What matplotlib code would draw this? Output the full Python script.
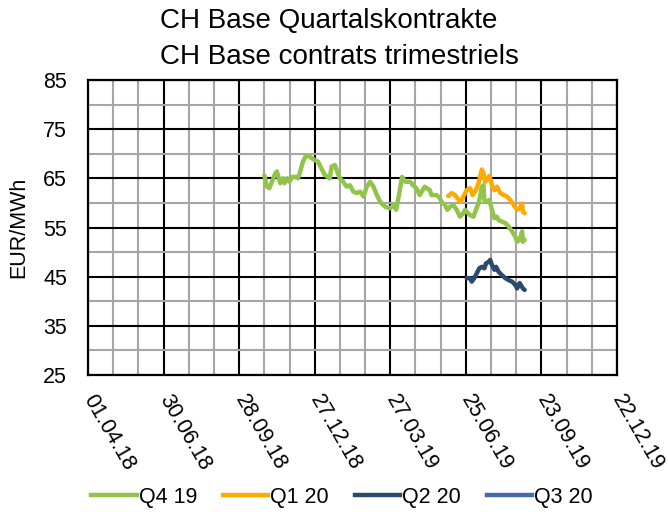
import matplotlib
matplotlib.use("Agg")
import matplotlib.pyplot as plt
import matplotlib.dates as mdates
from matplotlib.ticker import FixedLocator, MultipleLocator
from matplotlib.lines import Line2D
import pandas as pd

plt.rcParams['font.family'] = ['Liberation Sans', 'DejaVu Sans']

title = "CH Base Quartalskontrakte\nCH Base contrats trimestriels"
ylabel = "EUR/MWh"
series_names = ["Q4 19", "Q1 20", "Q2 20", "Q3 20"]
series_colors = ["#92C44C", "#FFAA00", "#2B4A70", "#4A68B0"]

q4_19_dates = ["2018-10-28", "2018-10-31", "2018-11-03", "2018-11-06", "2018-11-10", "2018-11-12",
               "2018-11-16", "2018-11-19", "2018-11-21", "2018-11-24", "2018-11-27", "2018-11-30",
               "2018-12-04", "2018-12-07", "2018-12-09", "2018-12-13", "2018-12-17", "2018-12-21",
               "2018-12-27", "2018-12-31", "2019-01-04", "2019-01-08", "2019-01-14", "2019-01-16",
               "2019-01-20", "2019-01-22", "2019-01-26", "2019-01-30", "2019-02-03", "2019-02-07",
               "2019-02-11", "2019-02-15", "2019-02-19", "2019-02-23", "2019-02-27", "2019-03-03",
               "2019-03-07", "2019-03-11", "2019-03-15", "2019-03-21", "2019-03-27", "2019-03-31",
               "2019-04-03", "2019-04-06", "2019-04-10", "2019-04-14", "2019-04-20", "2019-04-23",
               "2019-04-27", "2019-05-01", "2019-05-07", "2019-05-13", "2019-05-15", "2019-05-21",
               "2019-05-25", "2019-05-27", "2019-05-31", "2019-06-03", "2019-06-06", "2019-06-10",
               "2019-06-14", "2019-06-18", "2019-06-22", "2019-06-24", "2019-06-26", "2019-06-30",
               "2019-07-04", "2019-07-07", "2019-07-10", "2019-07-12", "2019-07-14", "2019-07-16",
               "2019-07-17", "2019-07-20", "2019-07-23", "2019-07-26", "2019-07-29", "2019-08-01",
               "2019-08-03", "2019-08-07", "2019-08-11", "2019-08-15", "2019-08-19", "2019-08-23",
               "2019-08-25", "2019-08-28", "2019-08-31", "2019-09-01", "2019-09-03"]
q4_19_values = [65.6, 63.3, 63.0, 64.3, 66.0, 66.4, 64.0, 65.0, 64.0, 65.0, 64.3, 65.3,
                65.3, 65.0, 66.0, 68.4, 69.7, 69.4, 68.7, 68.4, 67.0, 65.7, 65.0, 67.4,
                67.7, 66.7, 65.0, 64.3, 63.3, 63.6, 62.3, 62.0, 62.3, 61.3, 63.3, 64.3,
                63.3, 61.6, 60.2, 59.2, 58.9, 59.6, 58.6, 61.3, 65.3, 64.3, 64.3, 63.6,
                63.0, 61.6, 63.3, 62.6, 61.6, 61.6, 61.0, 60.2, 59.6, 58.6, 59.2, 59.6,
                58.6, 57.2, 57.9, 58.6, 58.2, 57.5, 57.2, 58.6, 59.9, 61.3, 63.3, 63.6,
                60.6, 60.2, 60.6, 58.6, 56.9, 57.2, 56.5, 56.2, 55.9, 55.2, 54.2, 53.1,
                52.1, 52.5, 54.2, 52.1, 52.5]

q1_20_dates = ["2019-06-04", "2019-06-08", "2019-06-12", "2019-06-15", "2019-06-19", "2019-06-22",
               "2019-06-26", "2019-06-30", "2019-07-03", "2019-07-07", "2019-07-10", "2019-07-12",
               "2019-07-14", "2019-07-16", "2019-07-18", "2019-07-20", "2019-07-23", "2019-07-26",
               "2019-07-29", "2019-08-01", "2019-08-05", "2019-08-09", "2019-08-13", "2019-08-17",
               "2019-08-21", "2019-08-25", "2019-08-28", "2019-08-31", "2019-09-01", "2019-09-03"]
q1_20_values = [61.4, 62.0, 61.6, 60.9, 60.2, 61.3, 62.6, 63.0, 61.6, 62.6, 64.0, 65.3,
                66.8, 66.0, 64.3, 64.7, 65.5, 63.6, 62.6, 63.3, 62.0, 61.6, 61.3, 60.6,
                59.6, 58.6, 58.9, 59.9, 58.2, 57.9]

q2_20_dates = ["2019-06-26", "2019-06-30", "2019-07-02", "2019-07-05", "2019-07-08", "2019-07-11",
               "2019-07-14", "2019-07-17", "2019-07-19", "2019-07-22", "2019-07-24", "2019-07-26",
               "2019-07-29", "2019-07-31", "2019-08-03", "2019-08-07", "2019-08-11", "2019-08-15",
               "2019-08-19", "2019-08-23", "2019-08-25", "2019-08-28", "2019-09-01", "2019-09-03"]
q2_20_values = [44.7, 44.7, 44.0, 44.7, 45.7, 46.7, 47.0, 46.7, 47.7, 48.0, 48.4, 47.4,
                46.4, 47.0, 46.0, 45.3, 44.7, 44.3, 44.0, 43.3, 42.6, 43.7, 42.6, 42.3]

q3_20_dates = []
q3_20_values = []

x_start = "2018-04-01"
x_end = "2019-12-22"
y_min, y_max = 25, 85

fig = plt.figure(figsize=(6.68, 5.25), dpi=100)
ax = fig.add_axes([88/668, 1-375/525, (617-88)/668, (375-80)/525])

all_series = [(q4_19_dates, q4_19_values), (q1_20_dates, q1_20_values),
              (q2_20_dates, q2_20_values), (q3_20_dates, q3_20_values)]
for (d, v), name, col in zip(all_series, series_names, series_colors):
    ax.plot(pd.to_datetime(d), v, color=col, lw=3.2, label=name, solid_capstyle='round',
            solid_joinstyle='round', zorder=3)

x0 = pd.Timestamp(x_start)
x1 = pd.Timestamp(x_end)
ax.set_xlim(x0, x1)
ax.set_ylim(y_min, y_max)
major = pd.date_range(x0, x1, freq="90D")
minor = pd.date_range(x0, x1, freq="30D")
ax.xaxis.set_major_locator(FixedLocator(mdates.date2num(major)))
ax.xaxis.set_minor_locator(FixedLocator(mdates.date2num(minor)))
ax.xaxis.set_major_formatter(mdates.DateFormatter("%d.%m.%y"))
ax.yaxis.set_minor_locator(MultipleLocator(5))
ax.set_yticks(range(y_min, y_max + 1, 10))

ax.set_axisbelow(True)
ax.grid(which='minor', color='#A6A6A6', lw=1.5, zorder=0)
ax.grid(which='major', color='black', lw=1.5, zorder=1)
for s in ax.spines.values():
    s.set_color('black')
    s.set_linewidth(1.6)

ax.tick_params(which='both', length=0)
ax.tick_params(axis='y', labelsize=15.5, pad=15)
ax.tick_params(axis='x', labelsize=15.5, pad=15)
for lab in ax.get_xticklabels():
    lab.set_rotation(-60)
    lab.set_rotation_mode('anchor')
    lab.set_ha('left')
    lab.set_va('center')

fig.text(19/668, 1-227.5/525, ylabel, rotation=90, ha='center', va='center', fontsize=15.5)

fig.text(160/668, 1-8/525, title, ha='left', va='top', fontsize=20, linespacing=1.5)

handles = [Line2D([], [], color=c, lw=3.2) for c in series_colors]
fig.legend(handles, series_names, loc='center', bbox_to_anchor=(342/668, 1-497/525), ncol=4,
           frameon=False, fontsize=15.5, handlelength=2.1, handletextpad=0.1, columnspacing=1.2)

fig.savefig("out.png", dpi=100)
